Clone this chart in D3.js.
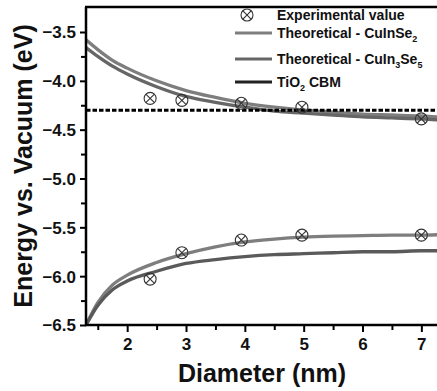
<!DOCTYPE html>
<html>
<head>
<meta charset="utf-8">
<script src="https://cdn.jsdelivr.net/npm/d3@7"></script>
<style>
  body { margin: 0; background: #fff; }
  text { font-family: "Liberation Sans", Arial, sans-serif; font-weight: bold; }
</style>
</head>
<body>
<script>
// diameter samples for the theoretical curves (nm)
const diam = [1.3, 1.5, 1.75, 2.0, 2.5, 3.0, 3.5, 4.0, 4.5, 5.0, 5.5, 6.0, 6.5, 7.0, 7.3]
// conduction band side
const cbCIS  = [-3.58, -3.68, -3.79, -3.87, -4.00, -4.10, -4.17, -4.23, -4.27, -4.30, -4.32, -4.34, -4.35, -4.36, -4.37]
const cbCIS35 = [-3.66, -3.75, -3.85, -3.93, -4.06, -4.16, -4.22, -4.27, -4.31, -4.33, -4.35, -4.37, -4.38, -4.39, -4.40]
// valence band side
const vbCIS  = [-6.50, -6.27, -6.09, -5.99, -5.86, -5.77, -5.70, -5.65, -5.62, -5.60, -5.59, -5.585, -5.58, -5.58, -5.575]
const vbCIS35 = [-6.50, -6.30, -6.14, -6.05, -5.95, -5.87, -5.83, -5.80, -5.78, -5.77, -5.76, -5.75, -5.75, -5.74, -5.74]
// experimental points
const expD  = [2.39, 2.93, 3.94, 4.97, 7.0]
const expCB = [-4.18, -4.20, -4.23, -4.27, -4.39]
const expVB = [-6.03, -5.76, -5.63, -5.58, -5.58]
const tio2 = -4.3
const xTicks = [2, 3, 4, 5, 6, 7]
const yTicks = [-6.5, -6.0, -5.5, -5.0, -4.5, -4.0, -3.5]

const W = 437, H = 391
const pL = 86, pT = 7, pR = 439, pB = 325

const svg = d3.select('body').append('svg')
  .attr('width', W).attr('height', H)

const x = d3.scaleLinear().domain([1.3, 7.3]).range([pL, pR])
const y = d3.scaleLinear().domain([-6.5, -3.5]).range([pB, 32])

svg.append('clipPath').attr('id', 'clip')
  .append('rect').attr('x', pL).attr('y', pT).attr('width', pR - pL).attr('height', pB - pT)

const plot = svg.append('g').attr('clip-path', 'url(#clip)')

const line = d3.line().x(d => x(d[0])).y(d => y(d[1])).curve(d3.curveMonotoneX)

const curves = [
  {v: cbCIS, c: '#7e7e7e'},
  {v: cbCIS35, c: '#666'},
  {v: vbCIS, c: '#7e7e7e'},
  {v: vbCIS35, c: '#5a5a5a'}
]
curves.forEach(cv => {
  plot.append('path')
    .datum(diam.map((d, i) => [d, cv.v[i]]))
    .attr('d', line)
    .attr('fill', 'none')
    .attr('stroke', cv.c)
    .attr('stroke-width', 3.3)
})

// TiO2 CBM
plot.append('line')
  .attr('x1', pL).attr('x2', pR)
  .attr('y1', y(tio2)).attr('y2', y(tio2))
  .attr('stroke', '#000').attr('stroke-width', 3)
  .attr('stroke-dasharray', '4.5,2')

// experimental markers
const marker = (g, cx, cy) => {
  const r = 6, k = r * 0.72
  g.append('circle').attr('cx', cx).attr('cy', cy).attr('r', r)
    .attr('fill', 'none').attr('stroke', '#333').attr('stroke-width', 1.1)
  g.append('line').attr('x1', cx - k).attr('y1', cy - k).attr('x2', cx + k).attr('y2', cy + k)
    .attr('stroke', '#333').attr('stroke-width', 1.1)
  g.append('line').attr('x1', cx - k).attr('y1', cy + k).attr('x2', cx + k).attr('y2', cy - k)
    .attr('stroke', '#333').attr('stroke-width', 1.1)
}
expD.forEach((d, i) => {
  marker(plot, x(d), y(expCB[i]))
  marker(plot, x(d), y(expVB[i]))
})

// axes
const xAxis = d3.axisBottom(x).tickValues(xTicks).tickFormat(d3.format('d')).tickSize(7).tickPadding(6)
const xMinor = d3.axisBottom(x).tickValues([1.5, 2.5, 3.5, 4.5, 5.5, 6.5]).tickFormat('').tickSize(5)
const yAxis = d3.axisLeft(y).tickValues(yTicks).tickFormat(d3.format('.1f')).tickSize(6).tickPadding(4)
const yMinor = d3.axisLeft(y).tickValues([-6.25, -5.75, -5.25, -4.75, -4.25, -3.75]).tickFormat('').tickSize(5)

const gx = svg.append('g').attr('transform', `translate(0,${pB})`).call(xAxis)
svg.append('g').attr('transform', `translate(0,${pB})`).call(xMinor)
const gy = svg.append('g').attr('transform', `translate(${pL},0)`).call(yAxis)
svg.append('g').attr('transform', `translate(${pL},0)`).call(yMinor)

svg.selectAll('.domain').remove()
svg.selectAll('.tick line').attr('stroke', '#000').attr('stroke-width', 2)
gx.selectAll('text').attr('font-size', 17).attr('fill', '#111')
gy.selectAll('text').attr('font-size', 17).attr('fill', '#111').attr('dy', '0.35em')

// frame
const frame = [[pL, pT, pL, pB + 1], [pL - 1, pB, pR, pB], [pL - 1, pT, pR, pT], [pR, pT, pR, pB]]
frame.forEach(f => {
  svg.append('line').attr('x1', f[0]).attr('y1', f[1]).attr('x2', f[2]).attr('y2', f[3])
    .attr('stroke', '#000').attr('stroke-width', 2.5)
})

// titles
svg.append('text').attr('x', 262).attr('y', 382).attr('text-anchor', 'middle')
  .attr('font-size', 25).attr('fill', '#111').text('Diameter (nm)')
svg.append('text').attr('transform', 'translate(32,166) rotate(-90)').attr('text-anchor', 'middle')
  .attr('font-size', 25).attr('fill', '#111').text('Energy vs. Vacuum (eV)')

// legend
const lg = svg.append('g')
marker(lg, 247, 15)
lg.append('text').attr('x', 277).attr('y', 20).attr('font-size', 14).attr('fill', '#111').text('Experimental value')
const legendRows = [
  {y: 33, c: '#7e7e7e', parts: [['Theoretical - CuInSe', 0], ['2', 1]]},
  {y: 59, c: '#666', parts: [['Theoretical - CuIn', 0], ['3', 1], ['Se', 0], ['5', 1]]},
  {y: 82, c: '#222', parts: [['TiO', 0], ['2', 1], [' CBM', 0]]}
]
legendRows.forEach(r => {
  lg.append('line').attr('x1', 235).attr('x2', 272).attr('y1', r.y).attr('y2', r.y)
    .attr('stroke', r.c).attr('stroke-width', 3)
  const t = lg.append('text').attr('x', 277).attr('y', r.y + 5).attr('font-size', 14).attr('fill', '#111')
  let sub = false
  r.parts.forEach(p => {
    const ts = t.append('tspan').text(p[0])
    if (p[1]) { ts.attr('font-size', 9).attr('dy', 4); sub = true }
    else if (sub) { ts.attr('dy', -4); sub = false }
  })
})
</script>
</body>
</html>
